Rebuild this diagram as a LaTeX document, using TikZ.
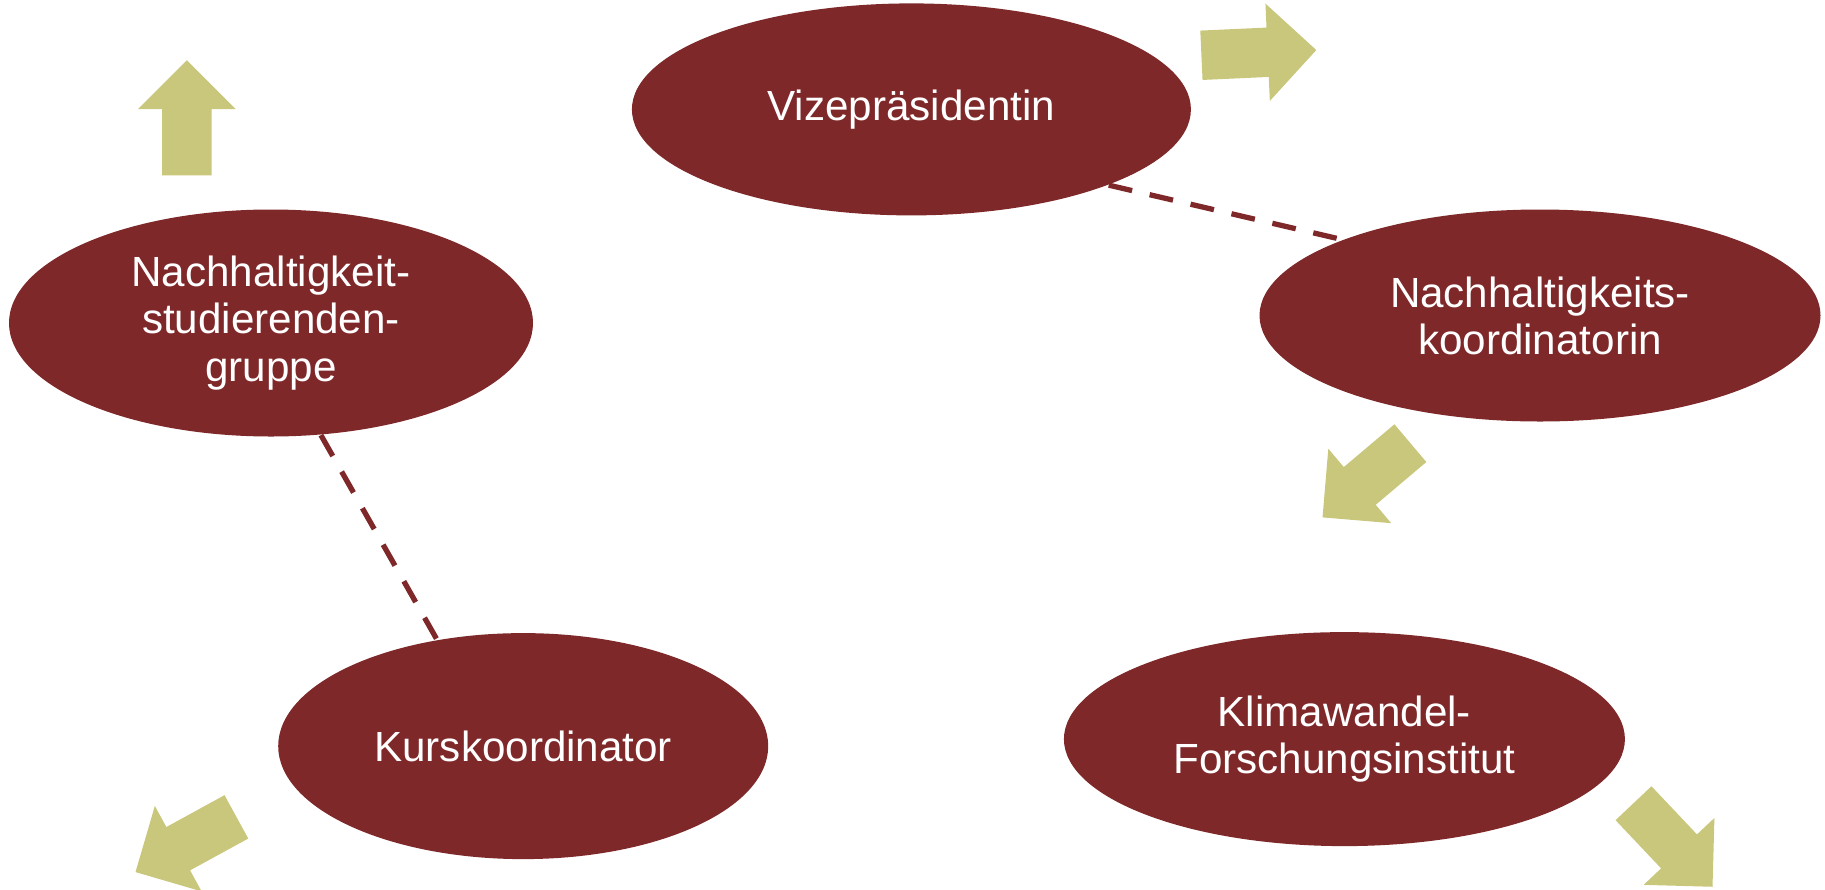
\documentclass[tikz,border=0pt]{standalone}
\usepackage{fontspec}
\setmainfont{Liberation Sans}
\usetikzlibrary{shapes.geometric,shapes.arrows}
\definecolor{roleRed}{RGB}{127,40,41}
\definecolor{arrowOlive}{RGB}{200,199,123}
\begin{document}
\begin{tikzpicture}[font=\fontsize{12}{13.4}\selectfont,
        role/.style={ellipse, fill=roleRed, text=white, align=center, inner sep=0pt},
        blockarrow/.style={single arrow, fill=arrowOlive, minimum height=1.15cm, single arrow head extend=0.24cm, single arrow tip angle=90, inner xsep=0pt, inner ysep=0.24cm, anchor=tail},
        link/.style={draw=roleRed, line width=1.5pt, dash pattern=on 0.24cm off 0.18cm}]
        \useasboundingbox (0,0) rectangle (18.25,-8.89);
        % Roles
        \node[role, minimum width=5.59cm, minimum height=2.12cm] (vp) at (9.114,-1.094) {Vizepräsidentin};
        \node[role, minimum width=5.24cm, minimum height=2.27cm] (nsg) at (2.71,-3.23) {Nachhaltigkeit-\\studierenden-\\gruppe};
        \node[role, minimum width=5.61cm, minimum height=2.12cm] (nk) at (15.40,-3.155) {Nachhaltigkeits-\\koordinatorin};
        \node[role, minimum width=4.90cm, minimum height=2.26cm] (kk) at (5.232,-7.461) {Kurskoordinator};
        \node[role, minimum width=5.61cm, minimum height=2.14cm] (kf) at (13.444,-7.391) {Klimawandel-\\Forschungsinstitut};

        % Links
        \draw[link] (vp.-21) -- (nk.159);
        \draw[link, shorten >=-0.1cm] (nsg.-66) -- (kk.129);

        % Arrows
        \node[blockarrow, rotate=2.6] (a1) at (12.007,-0.553) {};
        \node[blockarrow, rotate=90] (a2) at (1.869,-1.76) {};
        \node[blockarrow, rotate=220.2] (a3) at (14.109,-4.427) {};
        \node[blockarrow, rotate=208.7] (a4) at (2.37,-8.165) {};
        \node[blockarrow, rotate=-46.6] (a5) at (16.33,-8.027) {};
\end{tikzpicture}
\end{document}
